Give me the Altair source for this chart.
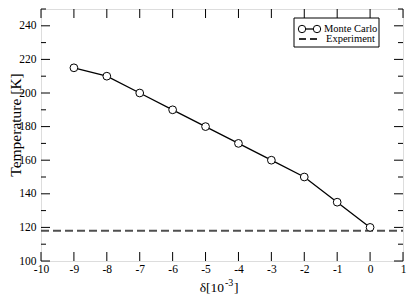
import altair as alt
import pandas as pd

delta = [-9, -8, -7, -6, -5, -4, -3, -2, -1, 0]
temperature = [215, 210, 200, 190, 180, 170, 160, 150, 135, 120]
experiment = 118
x_major = [-10, -9, -8, -7, -6, -5, -4, -3, -2, -1, 0, 1]
y_major = [100, 120, 140, 160, 180, 200, 220, 240]
y_minor = [110, 130, 150, 170, 190, 210, 230, 250]

W, H = 362, 252
FONT = "Liberation Serif, Times New Roman, DejaVu Serif, serif"

df = pd.DataFrame({"d": delta, "T": temperature})
xs = alt.Scale(domain=[-10, 1], nice=False, zero=False)
ys = alt.Scale(domain=[100, 250], nice=False, zero=False)

LBL = "datum.value < 0 ? '-' + (-datum.value) : '' + datum.value"
common = dict(ticks=False, domain=False, grid=False, labelFont=FONT, labelFontSize=11.5,
              labelColor="black", labelFlush=False, labelOverlap=False, labelExpr=LBL,
              title=None)
AXX = alt.Axis(values=x_major, labelPadding=2, **common)
AXY = alt.Axis(values=y_major, labelPadding=5, **common)


def X(f):
    return alt.X(f, scale=xs, axis=AXX, title=None)


def Y(f):
    return alt.Y(f, scale=ys, axis=AXY, title=None)


line = alt.Chart(df).mark_line(color="black", strokeWidth=1.3).encode(x=X("d:Q"), y=Y("T:Q"))
pts = alt.Chart(df).mark_point(shape="circle", size=60, filled=True, fill="white",
                               stroke="black", strokeWidth=1, opacity=1).encode(
    x=X("d:Q"), y=Y("T:Q"))

exp_df = pd.DataFrame({"T": [experiment]})
exp = alt.Chart(exp_df).mark_rule(color="#505050", strokeWidth=2, strokeDash=[8, 4]).encode(
    y=Y("T:Q"), x=alt.value(0), x2=alt.value(W))

# inward ticks
xt = pd.DataFrame({"d": x_major})
ymj = pd.DataFrame({"T": y_major})
ymn = pd.DataFrame({"T": y_minor})
tick_layers = [
    alt.Chart(xt).mark_rule(color="black", strokeWidth=1).encode(
        x=X("d:Q"), y=alt.value(H), y2=alt.value(H - 9)),
    alt.Chart(xt).mark_rule(color="black", strokeWidth=1).encode(
        x=X("d:Q"), y=alt.value(0), y2=alt.value(9)),
    alt.Chart(ymj).mark_rule(color="black", strokeWidth=1).encode(
        y=Y("T:Q"), x=alt.value(0), x2=alt.value(9)),
    alt.Chart(ymj).mark_rule(color="black", strokeWidth=1).encode(
        y=Y("T:Q"), x=alt.value(W - 9), x2=alt.value(W)),
    alt.Chart(ymn).mark_rule(color="black", strokeWidth=1).encode(
        y=Y("T:Q"), x=alt.value(0), x2=alt.value(5)),
    alt.Chart(ymn).mark_rule(color="black", strokeWidth=1).encode(
        y=Y("T:Q"), x=alt.value(W - 5), x2=alt.value(W)),
]

# legend
one = pd.DataFrame({"a": [0]})
LX0, LX1, LY0, LY1 = W - 109, W - 24, 9, 38
legend = [
    alt.Chart(one).mark_rect(fill="white", stroke="black", strokeWidth=1).encode(
        x=alt.value(LX0), x2=alt.value(LX1), y=alt.value(LY0), y2=alt.value(LY1)),
    alt.Chart(one).mark_rule(color="black", strokeWidth=1.3).encode(
        x=alt.value(LX0 + 8), x2=alt.value(LX0 + 23), y=alt.value(LY0 + 11)),
    alt.Chart(pd.DataFrame({"px": [LX0 + 8, LX0 + 23]})).mark_point(
        shape="circle", size=55, filled=True, fill="white", stroke="black",
        strokeWidth=1, opacity=1).encode(x=alt.X("px:Q", scale=None), y=alt.value(LY0 + 11)),
    alt.Chart(one).mark_rule(color="#303030", strokeWidth=2, strokeDash=[7, 4]).encode(
        x=alt.value(LX0 + 5), x2=alt.value(LX0 + 23), y=alt.value(LY0 + 21)),
    alt.Chart(one).mark_text(text="Monte Carlo", font=FONT, fontSize=10.5, align="left",
                             baseline="middle", color="black").encode(
        x=alt.value(LX0 + 30), y=alt.value(LY0 + 11)),
    alt.Chart(one).mark_text(text="Experiment", font=FONT, fontSize=10.5, align="left",
                             baseline="middle", color="black").encode(
        x=alt.value(LX0 + 32), y=alt.value(LY0 + 21)),
]

# axis titles
titles = [
    alt.Chart(one).mark_text(text="Temperature [K]", font=FONT, fontSize=15.5, angle=270,
                             align="center", baseline="middle", color="black").encode(
        x=alt.value(-25), y=alt.value(116)),
    alt.Chart(one).mark_text(text="δ[10", font=FONT, fontSize=13.5, align="right",
                             baseline="alphabetic", color="black").encode(
        x=alt.value(183), y=alt.value(H + 31)),
    alt.Chart(one).mark_text(text="-3", font=FONT, fontSize=10, align="left",
                             baseline="alphabetic", color="black").encode(
        x=alt.value(184), y=alt.value(H + 25)),
    alt.Chart(one).mark_text(text="]", font=FONT, fontSize=13.5, align="left",
                             baseline="alphabetic", color="black").encode(
        x=alt.value(193), y=alt.value(H + 31)),
]

chart = alt.layer(exp, line, pts, *tick_layers, *legend, *titles).properties(
    width=W, height=H,
    autosize=alt.AutoSizeParams(type="none"),
    padding={"left": 33, "top": 1, "right": 4, "bottom": 37},
).configure_view(stroke="black", strokeWidth=1.5).configure(background="white")

chart.save("out.html", embed_options={"renderer": "svg", "actions": False})
